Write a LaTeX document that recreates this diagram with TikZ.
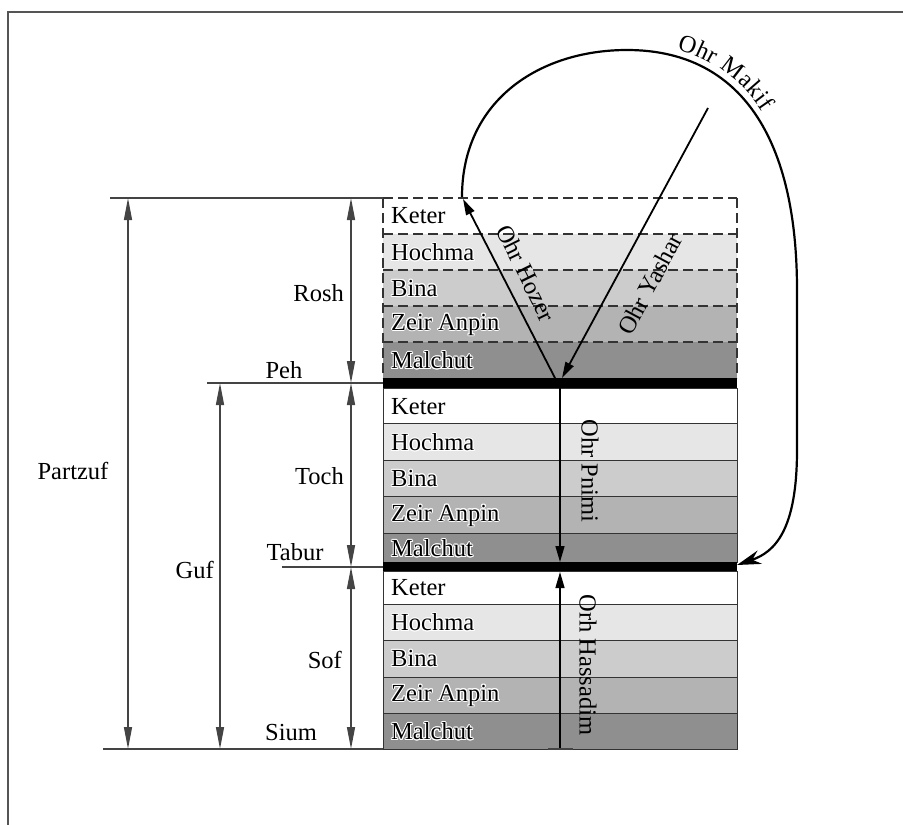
\documentclass[tikz,border=0pt]{standalone}
\usepackage{fontspec}
\setmainfont{Liberation Serif}
\usepackage[copies]{contour}
\usetikzlibrary{arrows.meta,decorations.text}
\definecolor{cK}{HTML}{FFFFFF}
\definecolor{cH}{HTML}{E6E6E6}
\definecolor{cB}{HTML}{CCCCCC}
\definecolor{cZ}{HTML}{B3B3B3}
\definecolor{cM}{HTML}{8F8F8F}
\definecolor{dimc}{HTML}{444444}
\definecolor{rowc}{HTML}{333333}
\definecolor{framec}{HTML}{555555}
\contourlength{1pt}
\begin{document}
\begin{tikzpicture}[x=1pt,y=-1pt,
  every node/.style={font=\fontsize{24.5}{29}\selectfont, inner sep=0pt},
  rowtxt/.style={anchor=west},
  solidrow/.style={draw=rowc, line width=0.9pt},
  dashrow/.style={draw=rowc, line width=1.1pt, dash pattern=on 10pt off 5pt},
  dimline/.style={draw=dimc, line width=1.5pt},
  dimarrow/.style={dimc, line width=1.5pt, {Triangle[length=22pt,width=8pt]}-{Triangle[length=22pt,width=8pt]}},
  ohr/.style={black, line width=1.8pt, -{Triangle[length=16pt,width=9pt]}}]
\useasboundingbox (0,0) rectangle (903,825);
% frame
\draw[framec, line width=2pt] (8,825) -- (8,12) -- (903,12);

% ---------- Rosh (dashed) ----------
\fill[cK] (383,198) rectangle (737,234);
\fill[cH] (383,234) rectangle (737,270);
\fill[cB] (383,270) rectangle (737,306);
\fill[cZ] (383,306) rectangle (737,342);
\fill[cM] (383,342) rectangle (737,378);
\foreach \yy in {198,234,270,306,342} \draw[dashrow] (383,\yy) -- (737,\yy);
\draw[dashrow] (383,198) -- (383,378);
\draw[dashrow] (737,198) -- (737,378);
\node[rowtxt] (rk) at (391,216) {\contour{white}{Keter}};
\node[rowtxt] (rh) at (391,253) {\contour{white}{Hochma}};
\node[rowtxt] (rb) at (391,289) {\contour{white}{Bina}};
\node[rowtxt] (rz) at (391,325) {\contour{white}{Zeir Anpin}};
\node[rowtxt] (rm) at (391,361) {\contour{white}{Malchut}};

% ---------- Toch ----------
\filldraw[solidrow, fill=cK] (383,388) rectangle (737,423);
\filldraw[solidrow, fill=cH] (383,423) rectangle (737,460);
\filldraw[solidrow, fill=cB] (383,460) rectangle (737,496);
\filldraw[solidrow, fill=cZ] (383,496) rectangle (737,533);
\filldraw[solidrow, fill=cM] (383,533) rectangle (737,562);
\node[rowtxt] (tk) at (391,407) {\contour{white}{Keter}};
\node[rowtxt] (th) at (391,443) {\contour{white}{Hochma}};
\node[rowtxt] (tb) at (391,479) {\contour{white}{Bina}};
\node[rowtxt] (tz) at (391,516) {\contour{white}{Zeir Anpin}};
\node[rowtxt] (tm) at (391,549) {\contour{white}{Malchut}};

% ---------- Sof ----------
\filldraw[solidrow, fill=cK] (383,571) rectangle (737,604);
\filldraw[solidrow, fill=cH] (383,604) rectangle (737,640);
\filldraw[solidrow, fill=cB] (383,640) rectangle (737,677);
\filldraw[solidrow, fill=cZ] (383,677) rectangle (737,713);
\filldraw[solidrow, fill=cM] (383,713) rectangle (737,749);
\node[rowtxt] (sk) at (391,588) {\contour{white}{Keter}};
\node[rowtxt] (sh) at (391,623) {\contour{white}{Hochma}};
\node[rowtxt] (sb) at (391,659) {\contour{white}{Bina}};
\node[rowtxt] (sz) at (391,696) {\contour{white}{Zeir Anpin}};
\node[rowtxt] (sm) at (391,732) {\contour{white}{Malchut}};

% bars
\fill[black] (383,378) rectangle (737,388);
\fill[black] (383,562) rectangle (737,571);

% ---------- dimension lines ----------
\coordinate (topL) at (110,198);  \coordinate (topR) at (383,198);
\coordinate (pehL) at (207,383);  \coordinate (pehR) at (383,383);
\coordinate (tabL) at (282,567);  \coordinate (tabR) at (383,567);
\coordinate (siuL) at (103,749);  \coordinate (siuR) at (383,749);
\draw[dimline] (topL) -- (topR);
\draw[dimline] (pehL) -- (pehR);
\draw[dimline] (tabL) -- (tabR);
\draw[dimline] (siuL) -- (siuR);

\coordinate (pzT) at (128,198); \coordinate (pzB) at (128,749);
\coordinate (gfT) at (220,383); \coordinate (gfB) at (220,749);
\coordinate (roT) at (351,198); \coordinate (roB) at (351,383);
\coordinate (toT) at (351,383); \coordinate (toB) at (351,567);
\coordinate (soT) at (351,567); \coordinate (soB) at (351,749);
\draw[dimarrow] (pzT) -- (pzB);
\draw[dimarrow] (gfT) -- (gfB);
\draw[dimarrow] (roT) -- (roB);
\draw[dimarrow] (toT) -- (toB);
\draw[dimarrow] (soT) -- (soB);

\node (partzuf) at (73,471) {Partzuf};
\node[anchor=east] (guf) at (214,570) {Guf};
\node[anchor=east] (rosh) at (344,293) {Rosh};
\node[anchor=east] (toch) at (344,476) {Toch};
\node[anchor=east] (sof) at (342,660) {Sof};
\node (peh) at (284,370) {Peh};
\node (tabur) at (295,552) {Tabur};
\node (sium) at (291,733) {Sium};

% ---------- lights ----------
\coordinate (yaS) at (708,108); \coordinate (yaE) at (562,378);
\coordinate (hoS) at (555,378); \coordinate (hoE) at (463,199);
\coordinate (pnS) at (560,388); \coordinate (pnE) at (560,562);
\coordinate (haS) at (560,749); \coordinate (haE) at (560,572);
\coordinate (tkL) at (548,749); \coordinate (tkR) at (573,749);
\draw[ohr] (yaS) -- (yaE);
\draw[ohr] (hoS) -- (hoE);
\draw[ohr, line width=1.4pt] (pnS) -- (pnE);
\draw[ohr, line width=1.4pt] (haS) -- (haE);
\draw[dimline] (tkL) -- (tkR);

\node[rotate=-63.7] (hozer) at (526,273) {Ohr Hozer};
\node[rotate=61.7] (yashar) at (650,284) {Ohr Yashar};
\node[rotate=-90] (pnimi) at (590,471) {Ohr Pnimi};
\node[rotate=-90] (hassadim) at (588,665) {Orh Hassadim};

% Ohr Makif
\coordinate (mkS) at (462,197);
\coordinate (mkT) at (627,50);
\coordinate (mkR) at (797,290);
\coordinate (mkD) at (797,450);
\coordinate (mkE) at (737,565);
\draw[black, line width=2.2pt, -{Stealth[length=24pt,width=14pt]}]
  (mkS) .. controls (462,100) and (540,50) .. (mkT)
  .. controls (735,50) and (797,130) .. (mkR)
  -- (mkD) .. controls (797,530) and (775,552) .. (mkE);
\path[postaction={decorate}, decoration={text along path,
  text={|\fontsize{24.5}{29}\selectfont|Ohr Makif},
  text align={left indent=48pt}, raise=7pt}]
  (mkT) .. controls (735,50) and (797,130) .. (mkR);
\end{tikzpicture}
\end{document}
